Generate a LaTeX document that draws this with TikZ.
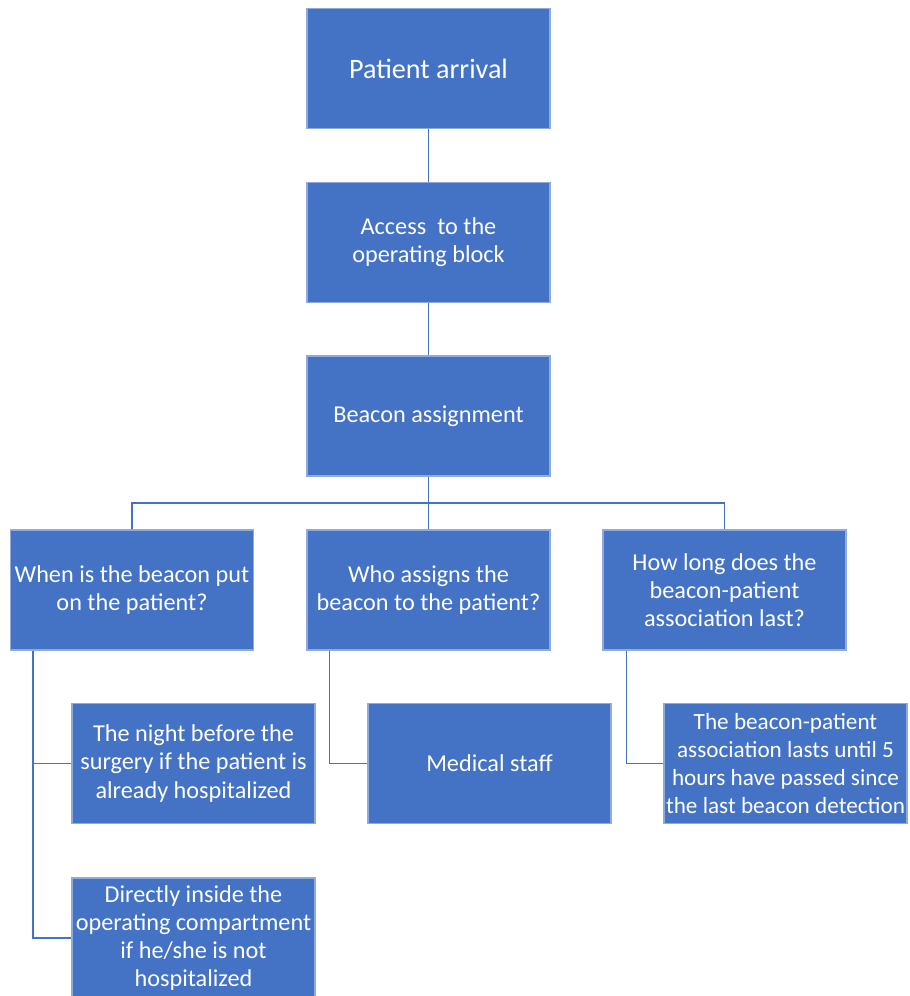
\documentclass[tikz,border=0pt]{standalone}
\usepackage{fontspec}
\setmainfont{Carlito}
\usepackage{tikz}
\definecolor{boxblue}{RGB}{68,114,196}
\definecolor{boxedge}{RGB}{143,170,220}

\begin{document}
\begin{tikzpicture}[
  every node/.style={font=\fontsize{13.8}{16}\selectfont},
  stepbox/.style={rectangle, draw=boxedge, line width=0.6pt, fill=boxblue, text=white,
    minimum width=4.86cm, minimum height=2.4cm, inner sep=0pt, align=center},
  link/.style={draw=boxblue, line width=1pt}
]
  \useasboundingbox (0,0) rectangle (18.18,19.92);

  \node[stepbox, font=\fontsize{16}{19}\selectfont] (arrival) at (8.57,18.55) {Patient arrival};
  \node[stepbox] (access) at (8.57,15.07) {Access~ to the\\operating block};
  \node[stepbox] (beacon) at (8.57,11.6) {Beacon assignment};

  \node[stepbox] (when) at (2.64,8.12) {When is the beacon put\\on the patient?};
  \node[stepbox] (who) at (8.57,8.12) {Who assigns the\\beacon to the patient?};
  \node[stepbox] (howlong) at (14.49,8.12) {How long does the\\beacon-patient\\association last?};

  \node[stepbox] (night) at (3.87,4.65) {The night before the\\surgery if the patient is\\already hospitalized};
  \node[stepbox] (staff) at (9.79,4.65) {Medical staff};
  \node[stepbox, font=\fontsize{13.2}{16}\selectfont] (lasts) at (15.71,4.65) {The beacon-patient\\association lasts until 5\\hours have passed since\\the last beacon detection};
  \node[stepbox] (directly) at (3.87,1.16) {Directly inside the\\operating compartment\\if he/she is not\\hospitalized};

  \coordinate (bus) at (8.57,9.86);

  \draw[link] (arrival) -- (access);
  \draw[link] (access) -- (beacon);
  \draw[link] (beacon) -- (bus);
  \draw[link] (when.north) |- (bus) -| (howlong.north);
  \draw[link] (bus) -- (who);

  \draw[link] ([xshift=0.46cm]when.south west) |- (night.west);
  \draw[link] ([xshift=0.46cm]when.south west) |- (directly.west);
  \draw[link] ([xshift=0.46cm]who.south west) |- (staff.west);
  \draw[link] ([xshift=0.48cm]howlong.south west) |- (lasts.west);
\end{tikzpicture}
\end{document}
